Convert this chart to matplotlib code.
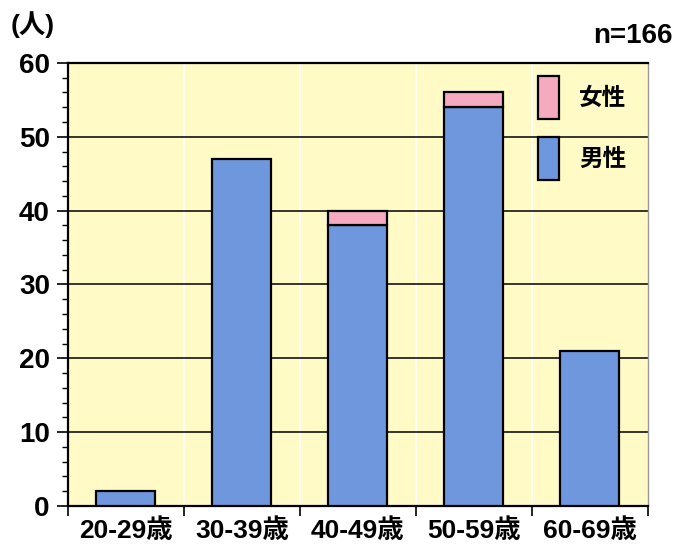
import matplotlib.pyplot as plt
from matplotlib.ticker import MultipleLocator, FixedLocator

plt.rcParams['font.family'] = ['Liberation Sans', 'Noto Sans CJK JP']
plt.rcParams['font.weight'] = 'bold'

# 年代別の人数（男性・女性）
age_groups = ['20-29歳', '30-39歳', '40-49歳', '50-59歳', '60-69歳']
male = [2, 47, 38, 54, 21]
female = [0, 0, 2, 2, 0]
total_n = 166

BLUE = '#6f97dd'
PINK = '#f5aac0'
BG = '#fffac6'

fig = plt.figure(figsize=(6.79, 5.47), dpi=100)
ax = fig.add_axes([0.100, 0.075, 0.854, 0.810])
ax.set_facecolor(BG)

x = list(range(len(age_groups)))
ax.bar(x, male, width=0.51, color=BLUE, edgecolor='black', linewidth=1.6,
       label='男性', zorder=3)
fem_x = [i for i, v in enumerate(female) if v > 0]
ax.bar(fem_x, [female[i] for i in fem_x], bottom=[male[i] for i in fem_x],
       width=0.51, color=PINK, edgecolor='black', linewidth=1.6,
       label='女性', zorder=3)

ax.set_xlim(-0.5, len(age_groups) - 0.5)
ax.set_ylim(0, 60)

# y軸: 10刻みの目盛り + 2刻みの補助目盛り
ax.yaxis.set_major_locator(MultipleLocator(10))
ax.yaxis.set_minor_locator(MultipleLocator(2))
ax.grid(axis='y', which='major', color='black', linewidth=1.1, zorder=1)

# x軸: 区切り線は白、ラベルは各区間の中央
bounds = [i - 0.5 for i in range(len(age_groups) + 1)]
ax.xaxis.set_major_locator(FixedLocator(bounds))
ax.xaxis.set_minor_locator(FixedLocator(x))
ax.set_xticklabels([''] * len(bounds))
ax.set_xticklabels(age_groups, minor=True)
for b in bounds[1:-1]:
    ax.axvline(b, color='white', linewidth=1.2, zorder=1)

ax.tick_params(axis='y', which='major', length=8, width=1.2, labelsize=20, pad=5)
ax.tick_params(axis='y', which='minor', length=4.5, width=1.0)
ax.tick_params(axis='x', which='major', length=7, width=1.2)
ax.tick_params(axis='x', which='minor', length=0, labelsize=19, pad=9)

for side in ['left', 'bottom', 'top']:
    ax.spines[side].set_linewidth(1.6)
ax.spines['right'].set_color('#999999')
ax.spines['right'].set_linewidth(1.0)

handles, labels = ax.get_legend_handles_labels()
leg = ax.legend(handles[::-1], labels[::-1], loc='upper left',
                bbox_to_anchor=(0.81, 0.9705), frameon=False, fontsize=17,
                handlelength=0.9, handleheight=2.4, labelspacing=0.8,
                handletextpad=0.85, borderaxespad=0, borderpad=0)

fig.text(0.015, 0.955, '(人)', fontsize=19, fontweight='bold', ha='left', va='center')
fig.text(0.99, 0.935, f'n={total_n}', fontsize=20, fontweight='bold',
         ha='right', va='center')

fig.savefig('out.png', dpi=100)
